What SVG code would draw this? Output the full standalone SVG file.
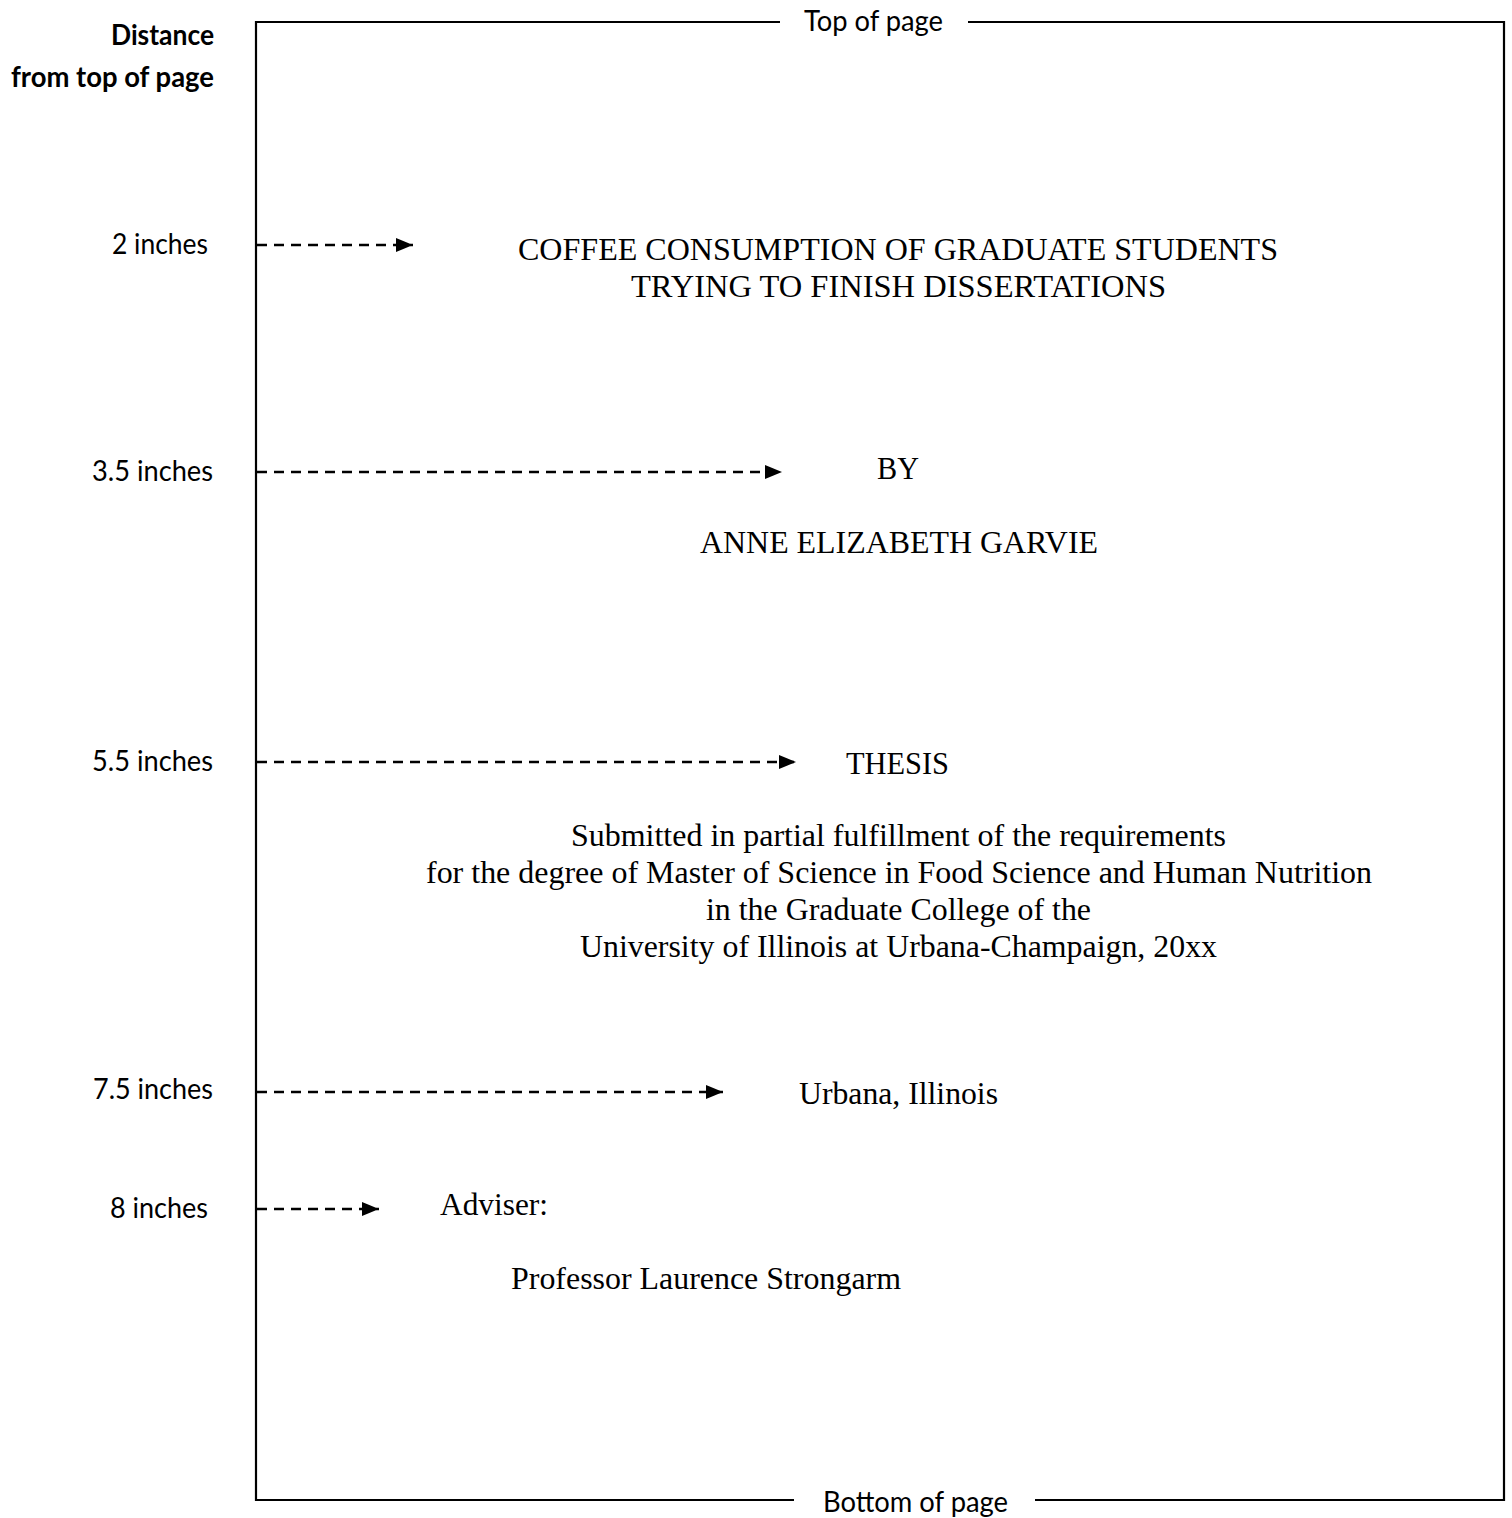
<svg xmlns="http://www.w3.org/2000/svg" width="1512" height="1518" viewBox="0 0 1512 1518">
<style>
.lab{font-family:Lato,"Open Sans","Liberation Sans",sans-serif;font-size:29px;fill:#000}
.bold{font-weight:bold}
.ser{font-family:"Liberation Serif","Times New Roman",serif;font-size:32px;fill:#000}
.frame{stroke:#000;stroke-width:2.2;fill:none}
.arr{stroke:#000;stroke-width:2.5;stroke-dasharray:10 7;fill:none;marker-end:url(#head)}
</style>
<defs>
<marker id="head" markerUnits="userSpaceOnUse" markerWidth="18" markerHeight="16" viewBox="0 0 18 16" refX="17" refY="8" orient="auto">
<path d="M0,1 L17,8 L0,15 Z" fill="#000"/>
</marker>
</defs>
<rect width="1512" height="1518" fill="#fff"/>
<g id="page-frame">
<path class="frame" d="M780,22 H256 V1500 H794"/>
<path class="frame" d="M968,22 H1504 V1500 H1035"/>
<text class="lab" x="804" y="31" textLength="139" lengthAdjust="spacingAndGlyphs">Top of page</text>
<text class="lab" x="823" y="1512" textLength="185" lengthAdjust="spacingAndGlyphs">Bottom of page</text>
</g>
<g id="axis-title">
<text class="lab bold" x="111" y="45" textLength="103" lengthAdjust="spacingAndGlyphs">Distance</text>
<text class="lab bold" x="11" y="87" textLength="203" lengthAdjust="spacingAndGlyphs">from top of page</text>
</g>
<g id="labels">
<text id="l2" class="lab" x="112" y="254" textLength="96" lengthAdjust="spacingAndGlyphs">2 inches</text>
<text id="l35" class="lab" x="92" y="481" textLength="121" lengthAdjust="spacingAndGlyphs">3.5 inches</text>
<text id="l55" class="lab" x="92" y="771" textLength="121" lengthAdjust="spacingAndGlyphs">5.5 inches</text>
<text id="l75" class="lab" x="93" y="1099" textLength="120" lengthAdjust="spacingAndGlyphs">7.5 inches</text>
<text id="l8" class="lab" x="110" y="1218" textLength="98" lengthAdjust="spacingAndGlyphs">8 inches</text>
</g>
<g id="connectors">
<line class="arr" x1="257" y1="245" x2="413" y2="245"/>
<line class="arr" x1="257" y1="472" x2="782" y2="472"/>
<line class="arr" x1="257" y1="762" x2="796" y2="762"/>
<line class="arr" x1="257" y1="1092" x2="723" y2="1092"/>
<line class="arr" x1="257" y1="1209" x2="379" y2="1209"/>
</g>
<g id="title">
<text class="ser" x="518" y="260" textLength="760" lengthAdjust="spacingAndGlyphs">COFFEE CONSUMPTION OF GRADUATE STUDENTS</text>
<text class="ser" x="631" y="297" textLength="535" lengthAdjust="spacingAndGlyphs">TRYING TO FINISH DISSERTATIONS</text>
</g>
<g id="by">
<text class="ser" x="877" y="479" textLength="42" lengthAdjust="spacingAndGlyphs">BY</text>
</g>
<g id="author">
<text class="ser" x="700" y="553" textLength="398" lengthAdjust="spacingAndGlyphs">ANNE ELIZABETH GARVIE</text>
</g>
<g id="thesis">
<text class="ser" x="846" y="774" textLength="103" lengthAdjust="spacingAndGlyphs">THESIS</text>
</g>
<g id="statement">
<text class="ser" x="571" y="846" textLength="655" lengthAdjust="spacingAndGlyphs">Submitted in partial fulfillment of the requirements</text>
<text class="ser" x="426" y="883" textLength="946" lengthAdjust="spacingAndGlyphs">for the degree of Master of Science in Food Science and Human Nutrition</text>
<text class="ser" x="706" y="920" textLength="385" lengthAdjust="spacingAndGlyphs">in the Graduate College of the</text>
<text class="ser" x="580" y="957" textLength="637" lengthAdjust="spacingAndGlyphs">University of Illinois at Urbana-Champaign, 20xx</text>
</g>
<g id="place">
<text class="ser" x="799" y="1104" textLength="199" lengthAdjust="spacingAndGlyphs">Urbana, Illinois</text>
</g>
<g id="adviser">
<text class="ser" x="440" y="1215" textLength="108" lengthAdjust="spacingAndGlyphs">Adviser:</text>
<text class="ser" x="511" y="1289" textLength="390" lengthAdjust="spacingAndGlyphs">Professor Laurence Strongarm</text>
</g>
</svg>
